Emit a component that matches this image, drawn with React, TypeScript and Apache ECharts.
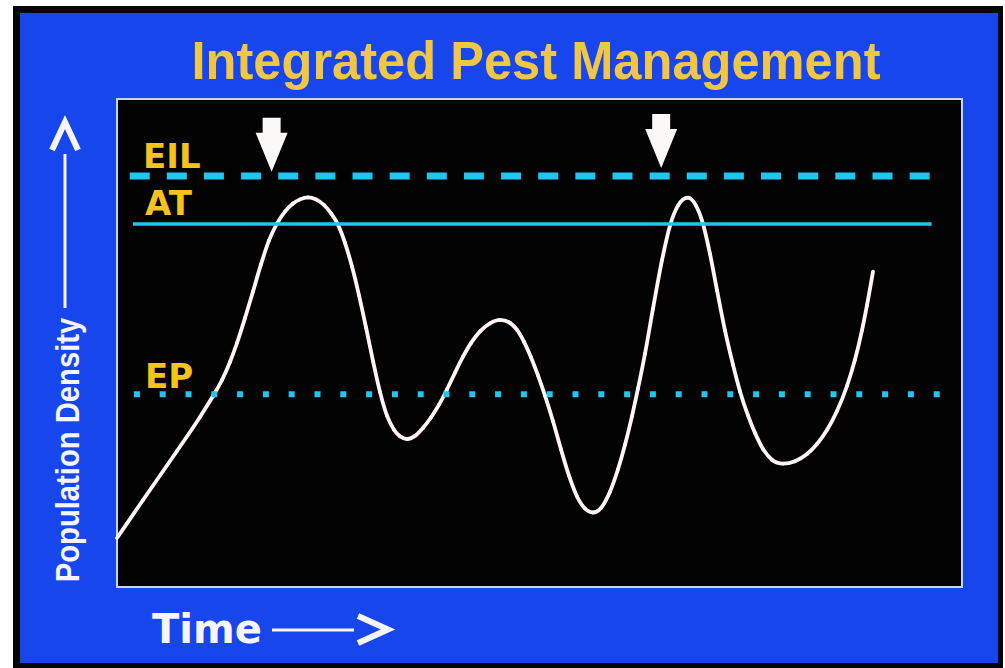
import React, { useEffect, useRef } from "react";
import * as echarts from "echarts";

// Time (0..100) and population density (0..100)
const curveTime = [
  0, 3.08, 7.1, 9.82, 11.36, 12.43, 13.37, 14.2, 15.15, 16.09, 17.04, 17.99, 18.93, 19.88, 20.83, 21.66, 22.6,
  23.55, 24.5, 25.33, 26.15, 26.98, 27.81, 28.64, 29.47, 30.3, 31.12, 31.95, 32.78, 33.49, 34.32,
  35.27, 36.21, 37.16, 38.11, 39.05, 40.0, 40.95, 41.89, 42.96, 44.14, 45.33,
  46.51, 47.34, 48.17, 48.99, 49.82, 50.65, 51.6, 52.54, 53.49, 54.44, 55.38, 56.33,
  57.28, 58.34, 59.29, 60.12, 60.95, 61.66, 62.49, 63.43, 64.5, 65.44, 66.39, 67.57,
  68.52, 69.35, 70.18, 71.01, 71.95, 72.9, 73.73, 74.67, 75.5, 76.45, 77.51, 78.82,
  80.24, 81.66, 82.84, 84.02, 85.21, 86.39, 87.34, 88.17, 88.76, 89.47,
];
const curveDensity = [
  10.04, 17.83, 27.87, 34.84, 39.14, 42.42, 46.11, 50.0, 55.12, 60.53, 66.11, 71.02, 74.47, 76.93, 78.57, 79.43, 79.84,
  79.43, 78.28, 76.56, 74.26, 70.53, 65.66, 59.77, 53.18, 46.29, 39.98, 35.1, 32.23, 30.88, 30.31,
  30.96, 32.6, 34.73, 37.36, 40.47, 43.91, 47.19, 49.98, 52.38, 54.02, 54.73,
  54.12, 52.68, 50.25, 47.09, 43.36, 39.2, 33.95, 28.22, 22.81, 18.55, 16.09, 15.27,
  16.21, 19.53, 24.12, 29.14, 35.02, 40.68, 47.85, 57.03, 66.99, 74.04, 78.14, 79.77,
  78.14, 74.41, 68.24, 60.78, 52.58, 45.53, 40.08, 35.16, 31.58, 28.3, 26.09, 25.29,
  25.78, 27.25, 29.3, 32.17, 36.07, 41.19, 46.6, 52.62, 57.75, 64.63,
];

const levelNames = ["EIL", "AT", "EP"];
const levelValues = [84.2, 74.4, 39.5];
const levelStart = [1.5, 1.9, 2.0];
const levelEnd = [96.2, 96.4, 97.4];

// interventions (arrows): time and height of arrow centre
const arrowTime = [18.3, 64.4];
const arrowDensity = [90.6, 91.4];

const TITLE = "Integrated Pest Management";
const X_NAME = "Time";
const Y_NAME = "Population Density";

export default function App() {
  const ref = useRef<HTMLDivElement>(null);
  useEffect(() => {
    if (!ref.current) return;
    const chart = echarts.init(ref.current, undefined, { renderer: "svg" });
    const cyan = "#1fc6ef";
    const yellow = "#f4c31c";
    const white = "#f5f5fb";
    const lineStyles = [
      { width: 7, type: [20, 17.14] as any },
      { width: 3.5, type: "solid" as any },
      { width: 6, type: [6, 19.8] as any },
    ];
    const levelSeries = levelNames.map((name, i) => ({
      type: "line",
      name,
      data: [
        [levelStart[i], levelValues[i]],
        [levelEnd[i], levelValues[i]],
      ],
      symbol: "none",
      silent: true,
      z: 3,
      lineStyle: { color: cyan, width: lineStyles[i].width, type: lineStyles[i].type, cap: "butt" },
      markPoint:
        i === 0
          ? {
              symbol: "path://M7,0 L25,0 L25,15 L32,15 L16,54 L0,15 L7,15 Z",
              symbolSize: [32, 54],
              itemStyle: { color: "#fbf8f8" },
              label: { show: false },
              data: arrowTime.map((t, k) => ({ coord: [t, arrowDensity[k]] })),
            }
          : undefined,
    }));

    const label = (text: string, x: number, y: number) => ({
      type: "text",
      x,
      y,
      style: { text, fill: yellow, fontFamily: "DejaVu Sans", fontWeight: "bold", fontSize: 34, textAlign: "left", textVerticalAlign: "middle" },
    });

    const n = Math.min(curveTime.length, curveDensity.length);
    // Hermite spline through the read points, in pixel space of the grid
    const renderItem = (params: any, api: any) => {
      const i = params.dataIndex;
      if (i >= n - 1) return null;
      const P = curveTime.slice(0, n).map((t, k) => api.coord([t, curveDensity[k]]));
      const slope = (k: number) => {
        if (k === 0) return (P[1][1] - P[0][1]) / (P[1][0] - P[0][0]);
        if (k === n - 1) return (P[k][1] - P[k - 1][1]) / (P[k][0] - P[k - 1][0]);
        const h0 = P[k][0] - P[k - 1][0];
        const h1 = P[k + 1][0] - P[k][0];
        const d0 = (P[k][1] - P[k - 1][1]) / h0;
        const d1 = (P[k + 1][1] - P[k][1]) / h1;
        if (d0 * d1 <= 0) return 0;
        let s = (d0 * h1 + d1 * h0) / (h0 + h1);
        const lim = 3 * Math.min(Math.abs(d0), Math.abs(d1));
        if (Math.abs(s) > lim) s = Math.sign(s) * lim;
        return s;
      };
      const a = P[i];
      const b = P[i + 1];
      const h = b[0] - a[0];
      const s0 = slope(i);
      const s1 = slope(i + 1);
      return {
        type: "bezierCurve",
        shape: {
          x1: a[0],
          y1: a[1],
          cpx1: a[0] + h / 3,
          cpy1: a[1] + (s0 * h) / 3,
          cpx2: b[0] - h / 3,
          cpy2: b[1] - (s1 * h) / 3,
          x2: b[0],
          y2: b[1],
        },
        style: { stroke: "#fff5f5", lineWidth: 3.8, fill: "none", lineCap: "round" },
      };
    };

    chart.setOption({
      animation: false,
      backgroundColor: "#ffffff",
      grid: {
        left: 117,
        top: 99,
        width: 845,
        height: 488,
        show: true,
        backgroundColor: "#030304",
        borderColor: "#c9d3f5",
        borderWidth: 2,
      },
      xAxis: { type: "value", min: 0, max: 100, show: false },
      yAxis: { type: "value", min: 0, max: 100, show: false },
      series: [
        {
          type: "custom",
          name: "Population",
          data: curveTime.slice(0, n).map((t, i) => [t, curveDensity[i]]),
          encode: { x: 0, y: 1 },
          renderItem,
          silent: true,
          z: 2,
        },
        ...levelSeries,
      ],
      graphic: [
        { type: "rect", z: -20, silent: true, shape: { x: 13, y: 6, width: 990, height: 662 }, style: { fill: "#050505" } },
        { type: "rect", z: -19, silent: true, shape: { x: 20, y: 13, width: 978, height: 650 }, style: { fill: "#1746ec" } },
        {
          type: "text",
          x: 536,
          y: 61,
          scaleX: 0.955,
          style: { text: TITLE, fill: "#f1c644", fontFamily: "Liberation Sans", fontWeight: "bold", fontSize: 53, textAlign: "center", textVerticalAlign: "middle" },
        },
        label(levelNames[0], 143, 156),
        label(levelNames[1], 145, 203),
        label(levelNames[2], 145, 376),
        {
          type: "text",
          x: 152,
          y: 629,
          style: { text: X_NAME, fill: white, fontFamily: "DejaVu Sans", fontWeight: "bold", fontSize: 40, textAlign: "left", textVerticalAlign: "middle" },
        },
        { type: "line", shape: { x1: 272, y1: 630, x2: 354, y2: 630 }, style: { stroke: white, lineWidth: 3 } },
        { type: "polyline", shape: { points: [[358, 616], [388, 629.5], [358, 643]] }, style: { stroke: white, lineWidth: 6, fill: null } },
        {
          type: "text",
          x: 67,
          y: 450,
          rotation: Math.PI / 2,
          scaleX: 0.86,
          style: { text: Y_NAME, fill: white, fontFamily: "Liberation Sans", fontWeight: "bold", fontSize: 34, textAlign: "center", textVerticalAlign: "middle" },
        },
        { type: "line", shape: { x1: 65, y1: 308, x2: 65, y2: 154 }, style: { stroke: white, lineWidth: 3 } },
        { type: "polyline", shape: { points: [[52, 150], [65, 122], [78, 150]] }, style: { stroke: white, lineWidth: 6, fill: null } },
      ],
    });
    return () => chart.dispose();
  }, []);
  return <div ref={ref} style={{ position: "absolute", left: 0, top: 0, width: 1005, height: 668 }} />;
}
